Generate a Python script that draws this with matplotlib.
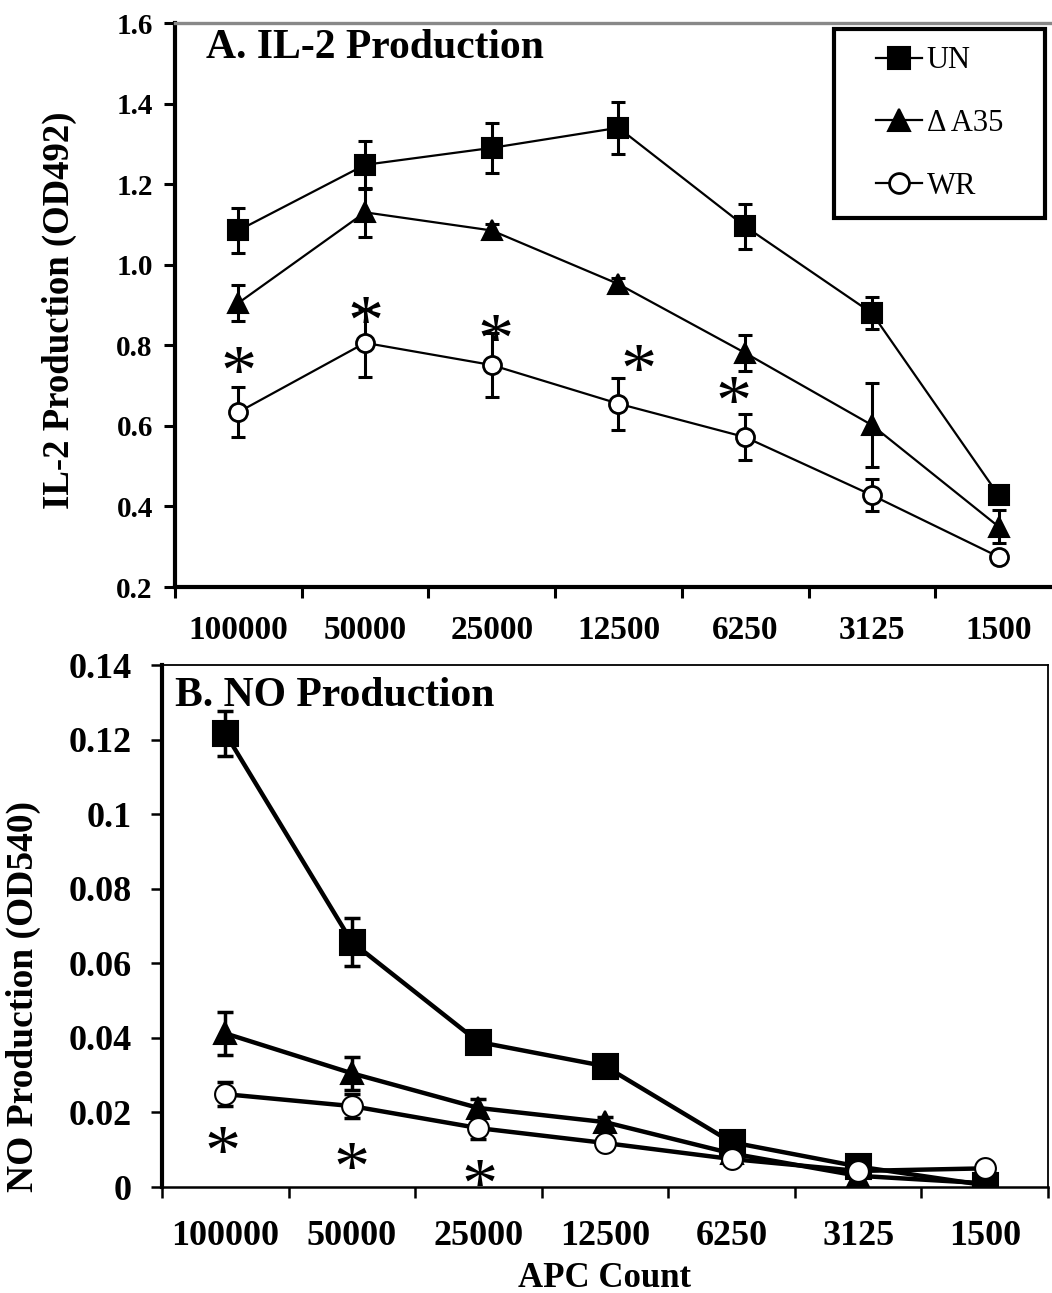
import matplotlib.pyplot as plt
import matplotlib.patches as mpatches
import matplotlib.transforms as mtransforms
from matplotlib.ticker import FixedLocator, NullFormatter, FixedFormatter

plt.switch_backend("Agg")
plt.rcParams["font.family"] = ["Liberation Serif", "DejaVu Serif"]

# APC count categories (shared by both panels)
apc_labels = ["100000", "50000", "25000", "12500", "6250", "3125", "1500"]

# Panel A: IL-2 production (OD492)
il2_un = [1.085, 1.248, 1.290, 1.340, 1.095, 0.880, 0.428]
il2_un_err = [0.055, 0.060, 0.063, 0.065, 0.055, 0.040, 0.0]
il2_a35 = [0.905, 1.130, 1.085, 0.952, 0.781, 0.602, 0.350]
il2_a35_err = [0.045, 0.060, 0.015, 0.015, 0.045, 0.105, 0.040]
il2_wr = [0.634, 0.806, 0.751, 0.655, 0.572, 0.428, 0.275]
il2_wr_err = [0.062, 0.085, 0.080, 0.065, 0.057, 0.040, 0.0]
# significance marks: category index and height
il2_star_cat = [0, 1, 2, 3, 4]
il2_star_shift = [0.0, 0.0, 0.03, 0.16, -0.09]
il2_star_y = [0.758, 0.883, 0.838, 0.764, 0.684]

# Panel B: NO production (OD540)
no_un = [0.1217, 0.0657, 0.0389, 0.0324, 0.0120, 0.0055, 0.0005]
no_un_err = [0.0060, 0.0065, 0.0, 0.0, 0.0, 0.0, 0.0]
no_a35 = [0.0412, 0.0305, 0.0212, 0.0174, 0.0090, 0.0030, 0.0010]
no_a35_err = [0.0058, 0.0045, 0.0025, 0.0015, 0.0, 0.0, 0.0]
no_wr = [0.0249, 0.0217, 0.0158, 0.0118, 0.0075, 0.0043, 0.0050]
no_wr_err = [0.0032, 0.0032, 0.0030, 0.0015, 0.0, 0.0, 0.0]
no_star_cat = [0, 1, 2]
no_star_shift = [-0.02, 0.0, 0.01]
no_star_y = [0.0120, 0.0078, 0.0032]

series_style = {
    "UN": dict(marker="s", mfc="black"),
    "\u0394 A35": dict(marker="^", mfc="black"),
    "WR": dict(marker="o", mfc="white"),
}

fig = plt.figure(figsize=(10.52, 12.93), dpi=100)
W, H = 1052, 1293

# axes placed in pixel terms to follow the original layout
ax1 = fig.add_axes([175 / W, 1 - 587 / H, (W - 175) / W, (587 - 23) / H])
ax2 = fig.add_axes([162 / W, 1 - 1187 / H, (1048 - 162) / W, (1187 - 665) / H])

xpos = [i + 0.5 for i in range(len(apc_labels))]


def draw_series(ax, values, errs, name, lw, ms, mew, elw, cap):
    style = series_style[name]
    ax.errorbar(xpos, values, yerr=errs, fmt="none", ecolor="black",
                elinewidth=elw, capsize=cap, capthick=elw, zorder=2)
    ax.plot(xpos, values, color="black", linewidth=lw, marker=style["marker"],
            markersize=ms, markerfacecolor=style["mfc"], markeredgecolor="black",
            markeredgewidth=mew, label=name, zorder=3)


def draw_stars(ax, cats, shifts, ys, fs):
    # shift baseline down so the glyph centre sits on the given value
    trans = mtransforms.offset_copy(ax.transData, fig=fig, y=-0.44 * fs, units="points")
    for c, s, y in zip(cats, shifts, ys):
        ax.text(c + 0.5 + s, y, "*", fontsize=fs, ha="center", va="baseline",
                transform=trans, clip_on=False, zorder=4)


def setup_xaxis(ax, fs, pad):
    ax.xaxis.set_major_locator(FixedLocator(range(len(apc_labels) + 1)))
    ax.xaxis.set_major_formatter(NullFormatter())
    ax.xaxis.set_minor_locator(FixedLocator(xpos))
    ax.xaxis.set_minor_formatter(FixedFormatter(apc_labels))
    ax.tick_params(axis="x", which="minor", length=0, pad=pad, labelsize=fs)
    for lab in ax.get_xticklabels(minor=True):
        lab.set_fontweight("bold")


# ---- Panel A ----
draw_series(ax1, il2_un, il2_un_err, "UN", 1.6, 14, 1.5, 2.2, 5)
draw_series(ax1, il2_a35, il2_a35_err, "\u0394 A35", 1.6, 14, 1.5, 2.2, 5)
draw_series(ax1, il2_wr, il2_wr_err, "WR", 1.6, 13, 2.0, 2.2, 5)
draw_stars(ax1, il2_star_cat, il2_star_shift, il2_star_y, 52)

ax1.set_xlim(0, (W - 175) / 126.7)
ax1.set_ylim(0.2, 1.6)
ax1.set_yticks([0.2, 0.4, 0.6, 0.8, 1.0, 1.2, 1.4, 1.6])
ax1.set_yticklabels(["0.2", "0.4", "0.6", "0.8", "1.0", "1.2", "1.4", "1.6"],
                    fontsize=21, fontweight="bold")
setup_xaxis(ax1, 24, 20)
ax1.tick_params(axis="both", which="major", direction="out", length=8, width=2.2)
ax1.tick_params(axis="y", pad=8)
ax1.spines["left"].set_linewidth(3)
ax1.spines["bottom"].set_linewidth(3)
ax1.spines["top"].set_color("#888888")
ax1.spines["top"].set_linewidth(2.4)
ax1.spines["right"].set_visible(False)
ax1.set_ylabel("IL-2 Production (OD492)", fontsize=26.5, fontweight="bold")
ax1.yaxis.set_label_coords(-0.112, 0.49)
ax1.text(0.035, 0.955, "A. IL-2 Production", transform=ax1.transAxes,
         fontsize=30, fontweight="bold", va="center", ha="left")

# legend without its own frame; the box is drawn separately so it can be wider
leg = ax1.legend(loc="center", bbox_to_anchor=((834 + 1045) / 2 / W, 1 - (29 + 218) / 2 / H),
                 bbox_transform=fig.transFigure, frameon=False,
                 fontsize=22, handlelength=1.5, handletextpad=0.15,
                 labelspacing=1.1, borderpad=0, markerscale=1.1)
box = mpatches.Rectangle((834 / W, 1 - 218 / H), (1045 - 834) / W, (218 - 29) / H,
                         transform=fig.transFigure, fill=False, edgecolor="black",
                         linewidth=3, zorder=5)
fig.patches.append(box)

# ---- Panel B ----
draw_series(ax2, no_un, no_un_err, "UN", 3.2, 18, 1.5, 2.5, 6)
draw_series(ax2, no_a35, no_a35_err, "\u0394 A35", 3.2, 16, 1.5, 2.5, 6)
draw_series(ax2, no_wr, no_wr_err, "WR", 3.2, 15, 1.5, 2.5, 6)
draw_stars(ax2, no_star_cat, no_star_shift, no_star_y, 52)

ax2.set_xlim(0, 7)
ax2.set_ylim(0, 0.14)
ax2.set_yticks([0, 0.02, 0.04, 0.06, 0.08, 0.10, 0.12, 0.14])
ax2.set_yticklabels(["0", "0.02", "0.04", "0.06", "0.08", "0.1", "0.12", "0.14"],
                    fontsize=26, fontweight="bold")
setup_xaxis(ax2, 26, 24)
ax2.tick_params(axis="both", which="major", direction="out", length=8, width=1.8)
ax2.tick_params(axis="y", pad=14)
ax2.spines["left"].set_linewidth(3)
ax2.spines["bottom"].set_linewidth(1.8)
ax2.spines["top"].set_linewidth(1.3)
ax2.spines["right"].set_linewidth(1.3)
ax2.set_ylabel("NO Production (OD540)", fontsize=27, fontweight="bold")
ax2.yaxis.set_label_coords(-0.137, 0.365)
ax2.set_xlabel("APC Count", fontsize=25, fontweight="bold", labelpad=6)
ax2.text(0.015, 0.94, "B. NO Production", transform=ax2.transAxes,
         fontsize=30, fontweight="bold", va="center", ha="left")

fig.savefig("out.png", dpi=100)
